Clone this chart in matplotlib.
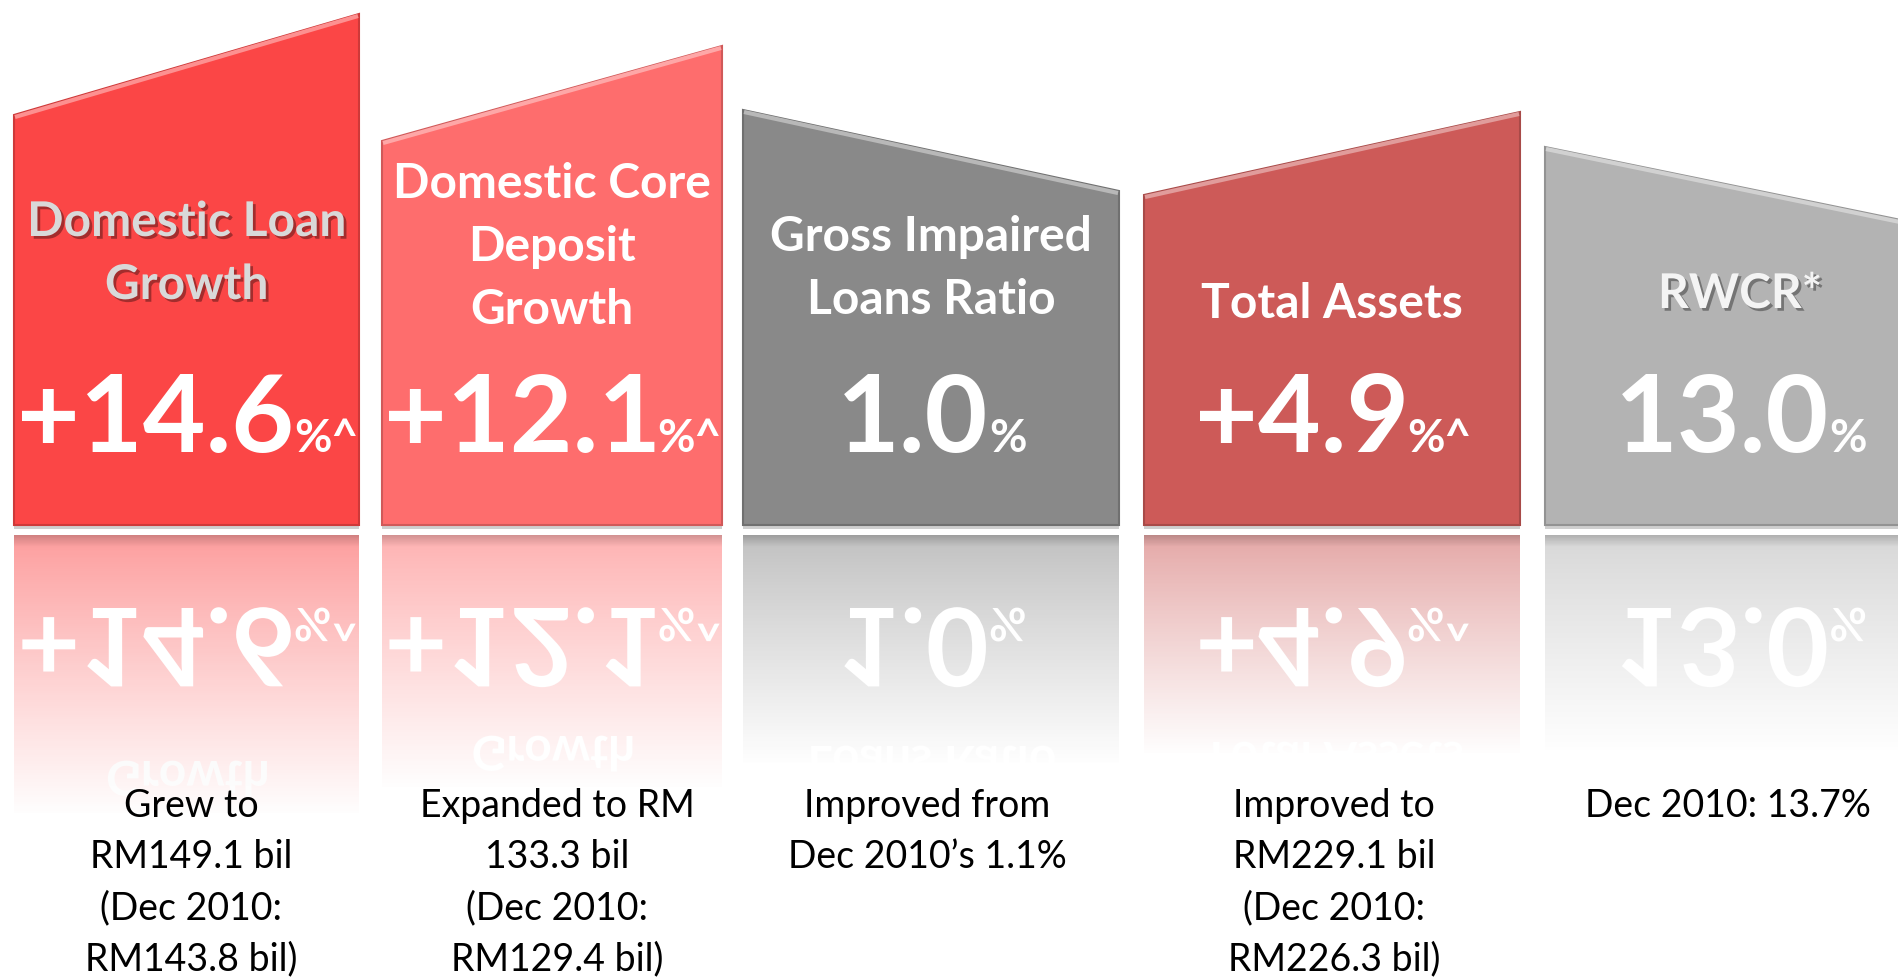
import matplotlib
matplotlib.use("Agg")
import matplotlib.pyplot as plt
import matplotlib.patheffects as pe
import matplotlib.colors as mcolors
from matplotlib.patches import Polygon, Rectangle, PathPatch
from matplotlib.textpath import TextPath
from matplotlib.font_manager import FontProperties
from matplotlib.transforms import Affine2D
import numpy as np

# data
titles = ["Domestic Loan\nGrowth", "Domestic Core\nDeposit\nGrowth",
          "Gross Impaired\nLoans Ratio", "Total Assets", "RWCR*"]
values = ["+14.6", "+12.1", "1.0", "+4.9", "13.0"]
suffixes = ["%^", "%^", "%", "%^", "%"]
notes = ["Grew to\nRM149.1 bil\n(Dec 2010:\nRM143.8 bil)",
         "Expanded to RM\n133.3 bil\n(Dec 2010:\nRM129.4 bil)",
         "Improved from\nDec 2010\u2019s 1.1%",
         "Improved to\nRM229.1 bil\n(Dec 2010:\nRM226.3 bil)",
         "Dec 2010: 13.7%"]

# styling / layout (pixels)
colors = ["#FB4646", "#FE6D6D", "#898989", "#CD5A58", "#B3B3B3"]
title_colors = ["#D9D9D9", "white", "white", "white", "#F4F4F4"]
title_shadow = [True, False, False, False, True]
box_x = [(14, 359), (382, 722), (743, 1119), (1144, 1520), (1545, 1935)]
box_top = [(115, 14), (141, 46), (110, 191), (195, 112), (147, 227)]
refl_len = [278, 252, 228, 218, 215]
title_base = [236, 198, 251, 318, 308]
note_x = [191, 557, 927, 1334, 1728]
BOTTOM = 525
REFL_TOP = 535
VALUE_BASE = 452
NOTE_BASE = 817
TITLE_STEP = 63
NOTE_STEP = 51

FONT = "Lato"
PX = 100 / 72.0
TITLE_FS, VALUE_FS, SUF_FS, NOTE_FS = 34.5, 78, 33, 27

W, H = 1898, 977
fig = plt.figure(figsize=(W / 100, H / 100), dpi=100)
ax = fig.add_axes([0, 0, 1, 1])
ax.axis("off")


def mix(c, other, t):
    a = np.array(mcolors.to_rgb(c))
    b = np.array(mcolors.to_rgb(other))
    return tuple(a * (1 - t) + b * t)


def text_path(s, fs, weight):
    return TextPath((0, 0), s, size=fs * PX, prop=FontProperties(family=FONT, weight=weight))


def mirror(s, fs, weight, xl, base_y, color, clip):
    path = text_path(s, fs, weight)
    off = REFL_TOP + BOTTOM - base_y
    patch = PathPatch(path, facecolor=color, edgecolor="none", zorder=1.5,
                      transform=Affine2D().translate(xl, off) + ax.transData)
    ax.add_patch(patch)
    patch.set_clip_path(clip)


for i in range(len(titles)):
    x0, x1 = box_x[i]
    tl, tr = box_top[i]
    cx = (x0 + x1) / 2
    c = colors[i]

    # panel
    ax.add_patch(Polygon([(x0, BOTTOM), (x0, tl), (x1, tr), (x1, BOTTOM)], closed=True,
                         facecolor=c, edgecolor=mix(c, "black", 0.18), lw=1.5, zorder=2))
    ax.plot([x0 + 1, x1 - 1], [tl + 2, tr + 2], color=mix(c, "white", 0.4), lw=3,
            solid_capstyle="butt", zorder=2.5)
    ax.add_patch(Rectangle((x0, BOTTOM), x1 - x0, 4, facecolor="#777777", alpha=0.35,
                           edgecolor="none", zorder=1.8))

    # reflection base
    L = refl_len[i]
    refl = Rectangle((x0, REFL_TOP), x1 - x0, L, facecolor=c, edgecolor="none", zorder=1)
    ax.add_patch(refl)

    # titles
    for k, line in enumerate(titles[i].split("\n")):
        yb = title_base[i] + k * TITLE_STEP
        effects = [pe.withSimplePatchShadow(offset=(2, -2), shadow_rgbFace="black", alpha=0.35)] \
            if title_shadow[i] else None
        ax.text(cx, yb, line, ha="center", va="baseline", fontsize=TITLE_FS, fontweight="bold",
                family=FONT, color=title_colors[i], zorder=5, path_effects=effects)
        p = text_path(line, TITLE_FS, "bold")
        w = p.get_extents().x1
        mirror(line, TITLE_FS, "bold", cx - w / 2, yb, title_colors[i], refl)

    # value + suffix
    p1 = text_path(values[i], VALUE_FS, "bold")
    p2 = text_path(suffixes[i], SUF_FS, "bold")
    w1 = p1.get_extents().x1
    w2 = p2.get_extents().x1
    gap = 3
    xl = cx - (w1 + gap + w2) / 2
    ax.text(xl, VALUE_BASE, values[i], ha="left", va="baseline", fontsize=VALUE_FS,
            fontweight="bold", family=FONT, color="white", zorder=5)
    ax.text(xl + w1 + gap, VALUE_BASE, suffixes[i], ha="left", va="baseline", fontsize=SUF_FS,
            fontweight="bold", family=FONT, color="white", zorder=5)
    mirror(values[i], VALUE_FS, "bold", xl, VALUE_BASE, "white", refl)
    mirror(suffixes[i], SUF_FS, "bold", xl + w1 + gap, VALUE_BASE, "white", refl)

    # white fade over the reflection
    n = 200
    t = np.linspace(0, 1, n)
    alpha = 0.47 + 0.53 * t ** 0.9
    fade = np.ones((n, 1, 4))
    fade[:, 0, 3] = alpha
    ax.imshow(fade, extent=(x0 - 1, x1 + 1, REFL_TOP + L + 1, REFL_TOP), origin="upper",
              aspect="auto", zorder=3, interpolation="bilinear")
    # soft shadow at reflection top
    sh = np.zeros((30, 1, 4))
    sh[:, 0, 3] = np.linspace(0.18, 0, 30)
    ax.imshow(sh, extent=(x0, x1, REFL_TOP + 12, REFL_TOP), origin="upper",
              aspect="auto", zorder=3.2, interpolation="bilinear")

    # notes
    for k, line in enumerate(notes[i].split("\n")):
        ax.text(note_x[i], NOTE_BASE + k * NOTE_STEP, line, ha="center", va="baseline",
                fontsize=NOTE_FS, family=FONT, color="black", zorder=6)

ax.set_xlim(0, W)
ax.set_ylim(H, 0)
fig.savefig("out.png", dpi=100, facecolor="white")
